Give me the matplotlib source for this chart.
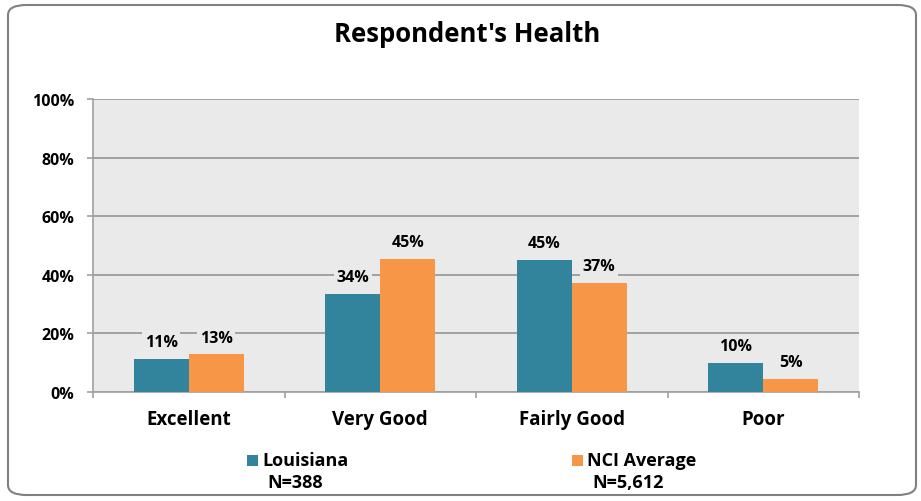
import matplotlib
matplotlib.use("Agg")
import matplotlib.pyplot as plt
from matplotlib.patches import FancyBboxPatch, Rectangle
import numpy as np

plt.rcParams['font.family'] = ['Open Sans', 'DejaVu Sans']

categories = ["Excellent", "Very Good", "Fairly Good", "Poor"]
louisiana = [11.3, 33.5, 45.1, 9.9]
nci = [12.8, 45.3, 37.2, 4.5]
louisiana_labels = ["11%", "34%", "45%", "10%"]
nci_labels = ["13%", "45%", "37%", "5%"]
yticks = [0, 20, 40, 60, 80, 100]
ytick_labels = ["0%", "20%", "40%", "60%", "80%", "100%"]
series_names = ["Louisiana", "NCI Average"]
series_n = ["N=388", "N=5,612"]

teal = "#31849B"
orange = "#F79646"
bg = "#EAEAEA"
grid = "#A0A0A0"

W, H = 921, 502
fig = plt.figure(figsize=(W / 100, H / 100), dpi=100)

# rounded border
border = FancyBboxPatch((8 / W, 6 / H), (908 / W), (490 / H),
                        boxstyle="round,pad=0,rounding_size=0.02",
                        transform=fig.transFigure, facecolor="white",
                        edgecolor="#808080", linewidth=1.5, zorder=-10)
fig.patches.append(border)

ax = fig.add_axes([93 / W, 1 - 393 / H, (859 - 93) / W, (393 - 100) / H])
ax.set_facecolor(bg)
ax.set_zorder(1)

x = np.arange(len(categories))
bw = 0.287
ax.bar(x - bw / 2, louisiana, bw, color=teal, zorder=3)
ax.bar(x + bw / 2, nci, bw, color=orange, zorder=3)

lab_kw = dict(ha="center", va="bottom", fontsize=11.5, fontweight="bold", zorder=4,
              bbox=dict(facecolor=bg, edgecolor="none", pad=2))
for xi, v, lab in zip(x - bw / 2, louisiana, louisiana_labels):
    ax.text(xi, v + 3.0, lab, **lab_kw)
for xi, v, lab in zip(x + bw / 2, nci, nci_labels):
    ax.text(xi, v + 3.0, lab, **lab_kw)

ax.set_xlim(-0.5, len(categories) - 0.5)
ax.set_ylim(0, 100)
ax.set_yticks(yticks)
ax.set_yticklabels(ytick_labels, fontsize=11.5, fontweight="bold")
ax.yaxis.grid(True, color=grid, linewidth=1.4, zorder=1)
ax.set_axisbelow(True)

ax.set_xticks(x)
ax.set_xticklabels(categories, fontsize=13.5, fontweight="bold")
ax.tick_params(axis="x", length=0, pad=12)
ax.set_xticks(np.arange(len(categories) + 1) - 0.5, minor=True)
ax.tick_params(axis="x", which="minor", length=4.5, color=grid, width=1.2)
ax.tick_params(axis="y", length=4.5, color=grid, width=1.2, pad=9)

for s in ["top", "right"]:
    ax.spines[s].set_visible(False)
for s in ["left", "bottom"]:
    ax.spines[s].set_color(grid)
    ax.spines[s].set_linewidth(1.2)

fig.text(467 / W, 1 - 35 / H, "Respondent's Health", ha="center", va="center",
         fontsize=18.5, fontweight="bold")

# legend
leg_items = [(247, teal), (572, orange)]
for (lx, col), name, n in zip(leg_items, series_names, series_n):
    fig.patches.append(Rectangle((lx / W, 1 - 467 / H), 11 / W, 11 / H,
                                 transform=fig.transFigure, facecolor=col, edgecolor="none"))
    fig.text((lx + 15) / W, 1 - 461 / H, name, ha="left", va="center",
             fontsize=13, fontweight="bold")
    fig.text((lx + 20) / W, 1 - 483 / H, n, ha="left", va="center",
             fontsize=13, fontweight="bold")

fig.savefig("out.png", dpi=100)
